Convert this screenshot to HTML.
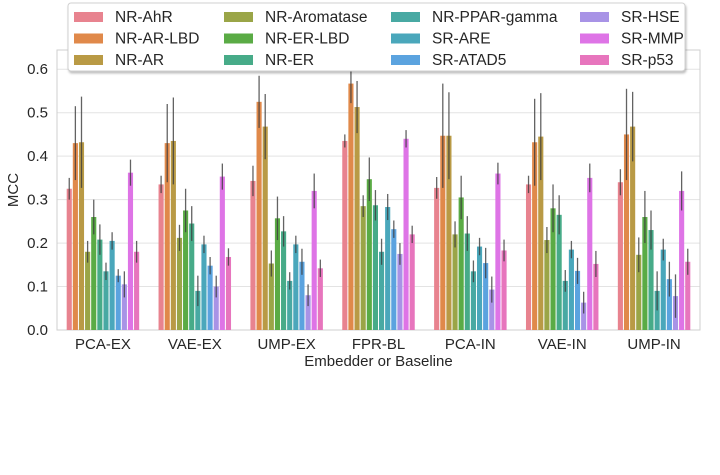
<!DOCTYPE html>
<html><head><meta charset="utf-8"><style>
body{margin:0;background:#fff;font-family:"Liberation Sans",sans-serif;}
svg text{font-family:"Liberation Sans",sans-serif;fill:#262626;}
</style></head><body>
<svg id="chart" width="720" height="470" xmlns="http://www.w3.org/2000/svg"></svg>
<script>
const categories=["PCA-EX","VAE-EX","UMP-EX","FPR-BL","PCA-IN","VAE-IN","UMP-IN"];
const seriesNames=["NR-AhR","NR-AR-LBD","NR-AR","NR-Aromatase","NR-ER-LBD","NR-ER","NR-PPAR-gamma","SR-ARE","SR-ATAD5","SR-HSE","SR-MMP","SR-p53"];
const seriesColors=["#e8838f","#e0894a","#b99a45","#9aa547","#5aab45","#47ab88","#48a9a3","#4aa7bb","#5ba3df","#a893e6","#de74e6","#e775bd"];
const values=[
[0.325,0.335,0.343,0.435,0.327,0.335,0.34],
[0.43,0.43,0.525,0.567,0.447,0.432,0.45],
[0.432,0.435,0.468,0.513,0.447,0.445,0.468],
[0.18,0.212,0.153,0.285,0.22,0.207,0.173],
[0.26,0.275,0.257,0.347,0.305,0.28,0.26],
[0.208,0.245,0.227,0.287,0.222,0.265,0.23],
[0.135,0.09,0.113,0.18,0.135,0.113,0.09],
[0.205,0.197,0.197,0.283,0.192,0.185,0.185],
[0.125,0.148,0.157,0.232,0.154,0.136,0.117],
[0.105,0.1,0.08,0.175,0.093,0.063,0.078],
[0.362,0.353,0.32,0.44,0.36,0.35,0.32],
[0.18,0.168,0.142,0.22,0.183,0.152,0.157]];
const errors=[
[0.025,0.02,0.035,0.015,0.025,0.02,0.03],
[0.085,0.09,0.06,0.045,0.12,0.1,0.105],
[0.105,0.1,0.075,0.06,0.1,0.1,0.08],
[0.025,0.03,0.03,0.025,0.03,0.03,0.04],
[0.04,0.05,0.05,0.05,0.05,0.055,0.06],
[0.035,0.04,0.035,0.035,0.04,0.045,0.045],
[0.02,0.035,0.02,0.03,0.025,0.025,0.045],
[0.02,0.02,0.02,0.03,0.02,0.02,0.025],
[0.015,0.02,0.03,0.02,0.035,0.03,0.04],
[0.03,0.025,0.025,0.025,0.03,0.025,0.05],
[0.03,0.03,0.04,0.02,0.025,0.033,0.045],
[0.025,0.02,0.02,0.02,0.025,0.03,0.03]];
const yTicks=[0,0.1,0.2,0.3,0.4,0.5,0.6];

const svg=document.getElementById('chart');
const NS="http://www.w3.org/2000/svg";
const L=57,R=700,T=50,B=330;
const y=v=>B-v*(B-112.7)/0.5;
const groupW=(R-L)/categories.length;
const x=i=>L+groupW*(i+0.5);
const barW=groupW*0.8/seriesNames.length;
function mk(tag,attrs,parent){const e=document.createElementNS(NS,tag);for(const k in attrs)e.setAttribute(k,attrs[k]);(parent||svg).appendChild(e);return e;}

const grid=mk('g',{});


yTicks.forEach(t=>{
  mk('line',{x1:L,x2:R,y1:y(t),y2:y(t),stroke:'#e3e3e3','stroke-width':1},grid);
  const tx=mk('text',{x:L-9,y:y(t)+5,'text-anchor':'end','font-size':15});
  tx.textContent=t.toFixed(1);
  
  
});
const frame=mk('rect',{x:L,y:T,width:R-L,height:B-T,fill:'none',stroke:'#cfcfcf','stroke-width':1});



categories.forEach((c,i)=>{
  const g=mk('g',{});
  
  
  seriesNames.forEach((s,j)=>{
    const v=values[j][i],e=errors[j][i];
    const bx=x(i)-groupW*0.4+j*barW;
    const r=mk('rect',{x:bx+0.5,y:y(v),width:barW-1,height:B-y(v),fill:seriesColors[j]},g);
    
    
    const l=mk('line',{x1:bx+barW/2,x2:bx+barW/2,y1:y(v-e),y2:y(v+e),stroke:'#3c3c3c','stroke-width':1.3,'stroke-opacity':0.8},g);
    
    
  });
  const t=mk('text',{x:x(i),y:349,'text-anchor':'middle','font-size':15});
  t.textContent=c;
  
  
});
const xt=mk('text',{x:(L+R)/2,y:366,'text-anchor':'middle','font-size':15});
xt.textContent='Embedder or Baseline';


const yt=mk('text',{x:18,y:190,'text-anchor':'middle','font-size':15,transform:'rotate(-90 18 190)'});
yt.textContent='MCC';



const lg=mk('g',{});


mk('rect',{x:68,y:3,width:617,height:68,rx:3,fill:'#fff',stroke:'#d0d0d0','stroke-width':1,style:'filter:drop-shadow(1px 2px 1px rgba(0,0,0,0.25))'},lg);
const colX=[74,224,391,580];
seriesNames.forEach((s,j)=>{
  const col=Math.floor(j/3),row=j%3;
  const ex=colX[col],ey=12+row*21.5;
  const e=mk('g',{},lg);
  
  
  mk('rect',{x:ex,y:ey,width:29,height:10,fill:seriesColors[j]},e);
  const t=mk('text',{x:ex+41,y:ey+10,'font-size':15.5},e);
  t.textContent=s;
});
</script>
</body></html>
